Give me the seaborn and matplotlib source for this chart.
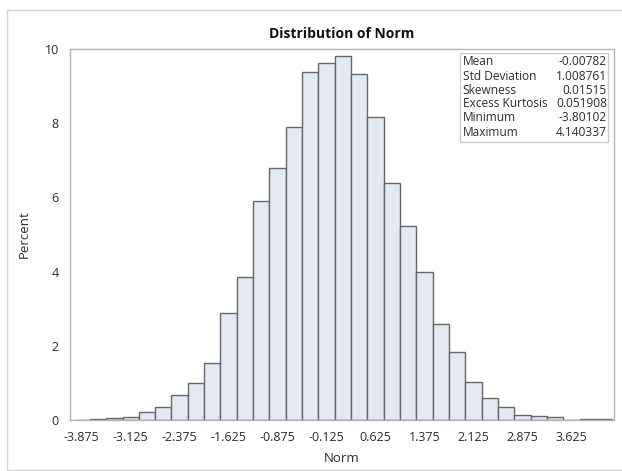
import numpy as np
import pandas as pd
import matplotlib
matplotlib.use("Agg")
import matplotlib.pyplot as plt
from matplotlib.patches import Rectangle
import seaborn as sns

# Bin midpoints (width 0.25) and the percent of observations in each bin
bin_mid = [-3.875, -3.625, -3.375, -3.125, -2.875, -2.625, -2.375, -2.125,
           -1.875, -1.625, -1.375, -1.125, -0.875, -0.625, -0.375, -0.125,
           0.125, 0.375, 0.625, 0.875, 1.125, 1.375, 1.625, 1.875,
           2.125, 2.375, 2.625, 2.875, 3.125, 3.375, 3.625, 3.875, 4.125]
percent = [0.01, 0.04, 0.05, 0.09, 0.22, 0.36, 0.67, 1.01,
           1.53, 2.88, 3.86, 5.91, 6.80, 7.89, 9.37, 9.61,
           9.81, 9.33, 8.16, 6.39, 5.24, 4.00, 2.59, 1.84,
           1.02, 0.58, 0.34, 0.13, 0.11, 0.09, 0.00, 0.02, 0.03]

x_ticks = [-3.875, -3.125, -2.375, -1.625, -0.875, -0.125,
           0.625, 1.375, 2.125, 2.875, 3.625]
y_ticks = [0, 2, 4, 6, 8, 10]

stat_names = ["Mean", "Std Deviation", "Skewness", "Excess Kurtosis",
              "Minimum", "Maximum"]
stat_values = ["-0.00782", "1.008761", "0.01515", "0.051908",
               "-3.80102", "4.140337"]

sns.set_style("white")
plt.rcParams["font.family"] = ["Open Sans", "DejaVu Sans"]

df = pd.DataFrame({"Norm": bin_mid, "Percent": percent})
width = 0.25
edges = [bin_mid[0] - width / 2] + [m + width / 2 for m in bin_mid]

fig = plt.figure(figsize=(6.22, 4.71), dpi=100)
ax = fig.add_axes([0.1125, 0.1083, 0.8746, 0.7877])

sns.histplot(data=df, x="Norm", weights="Percent", bins=edges, ax=ax,
             color="#E3E8F1", edgecolor="#62666F", linewidth=1.0, alpha=1.0)

ax.set_xlim(-4.054, 4.273)
ax.set_ylim(0, 10)
ax.set_xticks(x_ticks)
ax.set_xticklabels([f"{t:.3f}" for t in x_ticks])
ax.set_yticks(y_ticks)

txt_color = "#2B2B2B"
ax.tick_params(axis="both", labelsize=9, colors="#9A9A9A",
               labelcolor=txt_color, length=4, width=0.8, direction="out",
               pad=4)
for side in ["left", "right", "top", "bottom"]:
    ax.spines[side].set_visible(True)
    ax.spines[side].set_color("#B4B4B4")
    ax.spines[side].set_linewidth(1.0)

ax.set_xlabel("Norm", fontsize=9.5, color=txt_color, labelpad=6)
ax.set_ylabel("Percent", fontsize=9.5, color=txt_color, labelpad=10)
ax.set_title("Distribution of Norm", fontsize=10, fontweight="bold",
             color="#111111", pad=8)

# Summary statistics inset
ax.add_patch(Rectangle((0.717, 0.749), 0.272, 0.240, transform=ax.transAxes,
                       facecolor="white", edgecolor="#C8C8C8", linewidth=0.9,
                       zorder=5))
row_y = [0.965, 0.927, 0.889, 0.852, 0.814, 0.776]
for name, val, yy in zip(stat_names, stat_values, row_y):
    ax.text(0.722, yy, name, transform=ax.transAxes, fontsize=8.6,
            color=txt_color, va="center", ha="left", zorder=6)
    ax.text(0.987, yy, val, transform=ax.transAxes, fontsize=8.6,
            color=txt_color, va="center", ha="right", zorder=6)

# Outer graph border
fig.patches.append(Rectangle((7 / 622, 1 / 471), 1.0, 1 - 11 / 471,
                             transform=fig.transFigure, facecolor="none",
                             edgecolor="#D4D4D4", linewidth=1.0))

fig.savefig("out.png", dpi=100)
